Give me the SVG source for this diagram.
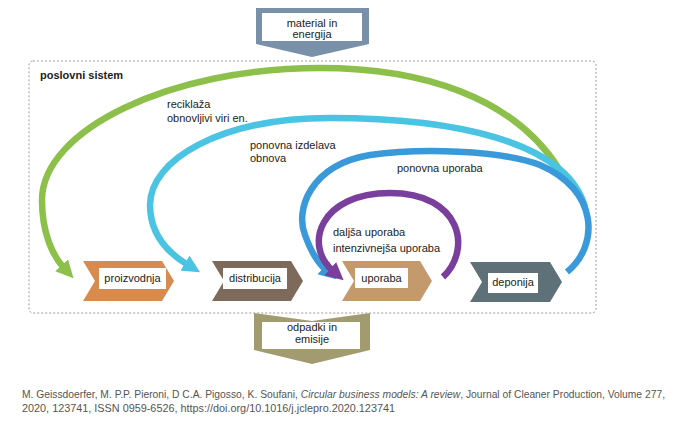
<svg xmlns="http://www.w3.org/2000/svg" width="680" height="425" viewBox="0 0 680 425">
<style>
.t{font-family:"Liberation Sans",Arial,sans-serif;font-size:11px;fill:#222}
.c{text-anchor:middle}
.box{fill:#fff}
.arc{fill:none;stroke-width:6.5}
.cit{font-family:"Liberation Sans",Arial,sans-serif;font-size:10.2px;fill:#555}
</style>
<defs>
<marker id="mg" viewBox="0 0 10 10" refX="2" refY="5" markerWidth="2.7" markerHeight="2.7" orient="auto"><path d="M0,0 L10,5 L0,10 z" fill="#8CC04A"/></marker>
<marker id="ml" viewBox="0 0 10 10" refX="2" refY="5" markerWidth="2.7" markerHeight="2.7" orient="auto"><path d="M0,0 L10,5 L0,10 z" fill="#4BC3E2"/></marker>
<marker id="mb" viewBox="0 0 10 10" refX="2" refY="5" markerWidth="2.7" markerHeight="2.7" orient="auto"><path d="M0,0 L10,5 L0,10 z" fill="#3A9AD9"/></marker>
<marker id="mp" viewBox="0 0 10 10" refX="2" refY="5" markerWidth="2.7" markerHeight="2.7" orient="auto"><path d="M0,0 L10,5 L0,10 z" fill="#7A3F9C"/></marker>
</defs>
<rect width="680" height="425" fill="#fff"/>

<g id="system">
<rect x="29" y="61" width="567" height="252" rx="4" fill="none" stroke="#999" stroke-width="1" stroke-dasharray="2,2"/>
<text x="40" y="79" class="t" font-weight="bold">poslovni sistem</text>
</g>

<g id="input">
<path d="M256,8 L369,8 L369,44 L312,57 L256,44 Z" fill="#7890A8"/>
<rect x="262" y="13" width="100" height="28" class="box"/>
<text x="312" y="27" class="t c">material in</text>
<text x="312" y="38" class="t c">energija</text>
</g>

<g id="output">
<path d="M254,313 L312,321 L370,313 L370,350 L312,364 L254,350 Z" fill="#A39B70"/>
<rect x="262" y="322" width="98" height="27" class="box"/>
<text x="312" y="331" class="t c">odpadki in</text>
<text x="312" y="343" class="t c">emisije</text>
</g>

<g id="proizvodnja">
<path d="M83,261 L162,261 L174,281 L162,301 L83,301 L95,281 Z" fill="#D98B4E"/>
<rect x="99" y="268" width="67" height="21" class="box"/>
<text x="132.5" y="282" class="t c">proizvodnja</text>
</g>
<g id="distribucija">
<path d="M212,261 L291,261 L303,281 L291,301 L212,301 L224,281 Z" fill="#7D6A5A"/>
<rect x="223" y="268" width="64" height="21" class="box"/>
<text x="255" y="282" class="t c">distribucija</text>
</g>
<g id="uporaba">
<path d="M342,261 L420,261 L432,281 L420,301 L342,301 L354,281 Z" fill="#C49A6C"/>
<rect x="355" y="268" width="53" height="20" class="box"/>
<text x="381.5" y="282" class="t c">uporaba</text>
</g>
<g id="deponija">
<path d="M470,262 L550,262 L562,282 L550,302 L470,302 L482,282 Z" fill="#5E7178"/>
<rect x="488" y="273" width="50" height="20" class="box"/>
<text x="513" y="286" class="t c">deponija</text>
</g>

<g id="connectors">
<path class="arc" stroke="#8CC04A" marker-end="url(#mg)" d="M559,169 C513,96 420,68 320,68 C170,68 42,130 42,200 C42,232 52,255 64,268"/>
<path class="arc" stroke="#4BC3E2" marker-end="url(#ml)" d="M585,207 C566,140 450,118 330,118 C220,118 150,160 150,205 C150,235 168,253 188,265"/>
<path class="arc" stroke="#3A9AD9" marker-end="url(#mb)" d="M567,272 C600,245 598,190 540,165 C500,150 420,148 370,155 C310,165 295,210 305,235 C311,252 318,263 326,270"/>
<path class="arc" stroke="#7A3F9C" marker-end="url(#mp)" d="M443,277 C472,250 462,193 390,193 C320,193 303,245 333,271"/>
</g>

<g id="labels">
<text x="167" y="108" class="t">reciklaža</text>
<text x="167" y="122" class="t">obnovljivi viri en.</text>
<text x="250" y="149" class="t">ponovna izdelava</text>
<text x="250" y="162" class="t">obnova</text>
<text x="397" y="172" class="t">ponovna uporaba</text>
<text x="333" y="236" class="t">daljša uporaba</text>
<text x="333" y="252" class="t">intenzivnejša uporaba</text>
</g>

<g id="citation">
<text x="22" y="398" class="cit" textLength="643" lengthAdjust="spacingAndGlyphs">M. Geissdoerfer, M. P.P. Pieroni, D C.A. Pigosso, K. Soufani, <tspan font-style="italic">Circular business models: A review</tspan>, Journal of Cleaner Production, Volume 277,</text>
<text x="22" y="412" class="cit" textLength="373" lengthAdjust="spacingAndGlyphs">2020, 123741, ISSN 0959-6526, https://doi.org/10.1016/j.jclepro.2020.123741</text>
</g>
</svg>
